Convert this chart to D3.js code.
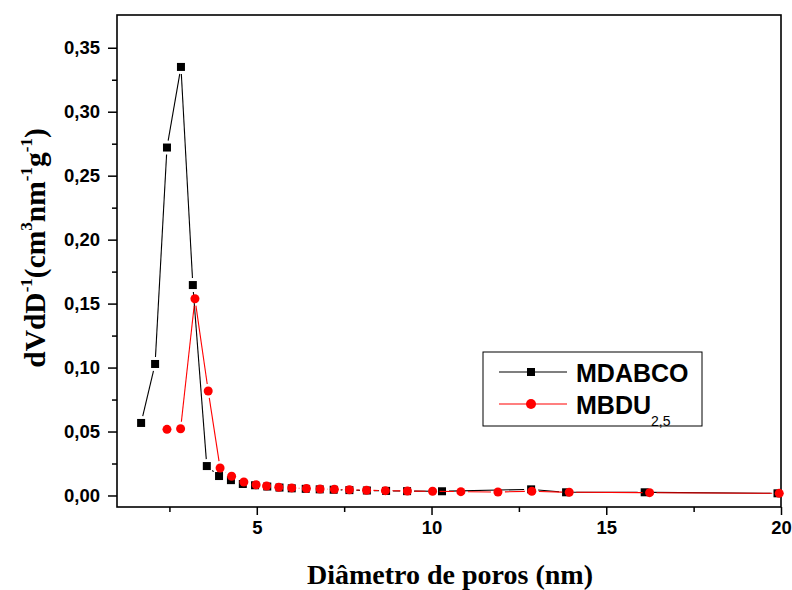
<!DOCTYPE html>
<html><head><meta charset="utf-8">
<script src="https://cdn.jsdelivr.net/npm/d3@7"></script>
<style>
html,body{margin:0;padding:0;background:#fff;}
svg{display:block;}
</style></head>
<body><svg id="chart" width="792" height="590"></svg>
<script>
// ---- data ----
const seriesNames = ["MDABCO", "MBDU"];
const xMDABCO = [1.69, 2.09, 2.43, 2.83, 3.17, 3.57, 3.92, 4.26, 4.60, 4.95, 5.30, 5.65, 6.00, 6.40, 6.80, 7.20, 7.65, 8.15, 8.70, 9.30, 10.30, 12.85, 13.85, 16.10, 19.90];
const yMDABCO = [0.0567, 0.1028, 0.272, 0.335, 0.1645, 0.0230, 0.0152, 0.0120, 0.0090, 0.0080, 0.0070, 0.0062, 0.0056, 0.0052, 0.0048, 0.0045, 0.0042, 0.0039, 0.0036, 0.0034, 0.0033, 0.0048, 0.0025, 0.0025, 0.0017];
const xMBDU = [2.43, 2.82, 3.23, 3.61, 3.95, 4.28, 4.63, 4.98, 5.28, 5.63, 6.00, 6.42, 6.81, 7.22, 7.65, 8.14, 8.68, 9.31, 10.03, 10.84, 11.90, 12.87, 13.94, 16.24, 19.95];
const yMBDU = [0.0517, 0.0522, 0.1538, 0.0817, 0.0215, 0.0150, 0.0105, 0.0084, 0.0074, 0.0064, 0.0059, 0.0055, 0.0051, 0.0048, 0.0045, 0.0041, 0.0038, 0.0035, 0.0033, 0.0030, 0.0027, 0.0033, 0.0025, 0.0022, 0.0017];
const xTicks = [5, 10, 15, 20];
const xTickLabels = ["5", "10", "15", "20"];
const xMinorTicks = [2.5, 7.5, 12.5, 17.5];
const yTicks = [0, 0.05, 0.10, 0.15, 0.20, 0.25, 0.30, 0.35];
const yTickLabels = ["0,00", "0,05", "0,10", "0,15", "0,20", "0,25", "0,30", "0,35"];
const yMinorTicks = [0.025, 0.075, 0.125, 0.175, 0.225, 0.275, 0.325];

// ---- layout ----
const L = 117, R = 781, T = 15, B = 507;
const svg = d3.select("#chart");
const x = d3.scaleLinear().domain([1, 20]).range([L, R]);
const y = d3.scaleLinear().domain([-0.009, 0.3756]).range([B, T]);

const tickFont = "'Liberation Sans', Arial, sans-serif";
const serif = "'Liberation Serif', 'Times New Roman', serif";

// axes
const xAxis = d3.axisBottom(x).tickValues(xTicks).tickFormat((d, i) => xTickLabels[i]).tickSize(8).tickSizeOuter(0).tickPadding(6);
const gx = svg.append("g").attr("transform", `translate(0,${B})`).call(xAxis);
const xMinor = d3.axisBottom(x).tickValues(xMinorTicks).tickFormat("").tickSize(5).tickSizeOuter(0);
const gxm = svg.append("g").attr("transform", `translate(0,${B})`).call(xMinor);

const yAxis = d3.axisLeft(y).tickValues(yTicks).tickFormat((d, i) => yTickLabels[i]).tickSize(9).tickSizeOuter(0).tickPadding(8);
const gy = svg.append("g").attr("transform", `translate(${L},0)`).call(yAxis);
const yMinor = d3.axisLeft(y).tickValues(yMinorTicks).tickFormat("").tickSize(5).tickSizeOuter(0);
const gym = svg.append("g").attr("transform", `translate(${L},0)`).call(yMinor);

[gx, gxm, gy, gym].forEach(g => {
  g.select(".domain").remove();
  g.selectAll(".tick line").attr("stroke", "#000").attr("stroke-width", 1.5);
  g.selectAll(".tick text").attr("fill", "#000").style("font-family", tickFont).style("font-weight", "bold").style("font-size", "18.5px");
});

// frame
svg.append("rect").attr("x", L).attr("y", T).attr("width", R - L).attr("height", B - T)
  .attr("fill", "none").attr("stroke", "#000").attr("stroke-width", 1.6);

// ---- series ----
function gappedSegments(xs, ys, gap) {
  const pts = xs.map((v, i) => [x(v), y(ys[i])]);
  const segs = [];
  for (let i = 0; i < pts.length - 1; i++) {
    const [x1, y1] = pts[i], [x2, y2] = pts[i + 1];
    const dx = x2 - x1, dy = y2 - y1, len = Math.hypot(dx, dy);
    if (len <= 2 * gap) continue;
    const ux = dx / len, uy = dy / len;
    segs.push([x1 + ux * gap, y1 + uy * gap, x2 - ux * gap, y2 - uy * gap]);
  }
  return segs;
}

const plot = svg.append("g");
function drawSeries(xs, ys, color, shape) {
  plot.append("g").selectAll("line").data(gappedSegments(xs, ys, 7)).join("line")
    .attr("x1", d => d[0]).attr("y1", d => d[1]).attr("x2", d => d[2]).attr("y2", d => d[3])
    .attr("stroke", color).attr("stroke-width", 1.1);
  const g = plot.append("g");
  if (shape === "square") {
    g.selectAll("rect").data(xs).join("rect")
      .attr("x", (d) => x(d) - 4).attr("y", (d, i) => y(ys[i]) - 4)
      .attr("width", 8).attr("height", 8).attr("fill", color);
  } else {
    g.selectAll("circle").data(xs).join("circle")
      .attr("cx", d => x(d)).attr("cy", (d, i) => y(ys[i])).attr("r", 4.5).attr("fill", color);
  }
}
drawSeries(xMDABCO, yMDABCO, "#000", "square");
drawSeries(xMBDU, yMBDU, "#ff0000", "circle");

// ---- legend ----
const lg = svg.append("g");
lg.append("rect").attr("x", 483).attr("y", 352).attr("width", 219).attr("height", 74)
  .attr("fill", "#fff").attr("stroke", "#000").attr("stroke-width", 1);
const legendItems = [
  { name: seriesNames[0], sub: "", color: "#000", shape: "square", y: 372 },
  { name: seriesNames[1], sub: "2,5", color: "#ff0000", shape: "circle", y: 404 }
];
legendItems.forEach(it => {
  lg.append("line").attr("x1", 499).attr("x2", 567).attr("y1", it.y).attr("y2", it.y)
    .attr("stroke", it.color).attr("stroke-width", 1.1);
  if (it.shape === "square") {
    lg.append("rect").attr("x", 531 - 4).attr("y", it.y - 4).attr("width", 8).attr("height", 8).attr("fill", it.color);
  } else {
    lg.append("circle").attr("cx", 531).attr("cy", it.y).attr("r", 5).attr("fill", it.color);
  }
  const t = lg.append("text").attr("x", 576).attr("y", it.y + 9.5)
    .style("font-family", tickFont).style("font-weight", "bold").style("font-size", "25px").attr("fill", "#000");
  t.append("tspan").text(it.name);
  if (it.sub) {
    t.append("tspan").attr("dy", 12).style("font-size", "14px").style("font-weight", "normal").text(it.sub);
  }
});

// ---- axis titles ----
svg.append("text").attr("x", 450).attr("y", 584).attr("text-anchor", "middle")
  .style("font-family", serif).style("font-weight", "bold").style("font-size", "28px")
  .attr("fill", "#000").text("Diâmetro de poros (nm)");

const yt = svg.append("text").attr("transform", "translate(45,248) rotate(-90)").attr("text-anchor", "middle")
  .style("font-family", serif).style("font-weight", "bold").style("font-size", "29.5px").attr("fill", "#000");
const parts = [["dVdD", 0], ["-1", 1], ["(cm", 0], ["3", 1], ["nm", 0], ["-1", 1], ["g", 0], ["-1", 1], [")", 0]];
let prevSup = false;
parts.forEach(([s, sup]) => {
  const ts = yt.append("tspan").text(s);
  if (sup && !prevSup) ts.attr("dy", -13).style("font-size", "17px");
  else if (!sup && prevSup) ts.attr("dy", 13);
  else if (sup) ts.style("font-size", "17px");
  prevSup = !!sup;
});
</script>
</body></html>
